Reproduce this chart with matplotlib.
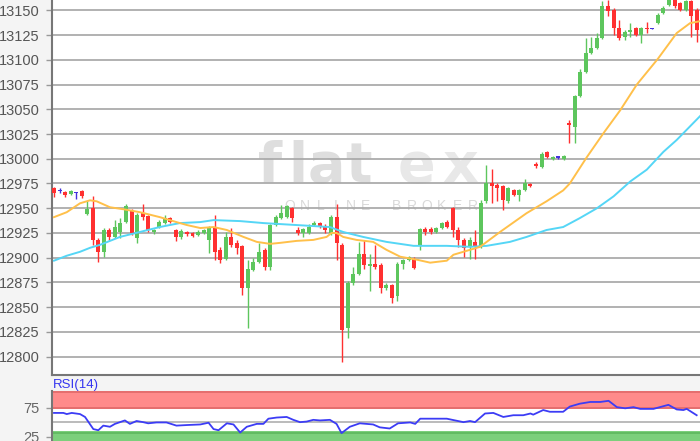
import numpy as np
import matplotlib
matplotlib.use("Agg")
import matplotlib.pyplot as plt

plt.rcParams['font.family'] = ['Liberation Sans', 'DejaVu Sans']

# OHLC (one entry per candle, left to right)
opens = [12970, 12967, 12966, 12964, 12965, 12967, 12944, 12950, 12918, 12906,
         12928, 12921, 12926, 12936, 12947, 12920, 12945, 12942, 12926, 12931,
         12935, 12940, 12928, 12921, 12926, 12925, 12923, 12925, 12918, 12931,
         12908, 12899, 12921, 12915, 12912, 12869, 12888, 12896, 12908, 12891,
         12933, 12940, 12941, 12950, 12928, 12925, 12925, 12933, 12935, 12932,
         12925, 12941, 12913, 12829, 12874, 12884, 12904, 12892, 12894, 12893,
         12869, 12872, 12861, 12894, 12898, 12899, 12913, 12929, 12929, 12926,
         12930, 12936, 12950, 12928, 12918, 12911, 12916, 12911, 12957, 12975,
         12973, 12972, 12957, 12968, 12963, 12968, 12974, 12994, 12992, 13007,
         13000, 13001, 13000, 13036, 13032, 13063, 13088, 13107, 13112, 13122,
         13154, 13150, 13132, 13123, 13128, 13132, 13125, 13132, 13131, 13137,
         13147, 13155, 13160, 13157, 13150, 13159, 13150]
highs = [12971, 12970, 12967, 12968, 12966, 12968, 12957, 12962, 12920, 12930,
         12930, 12938, 12940, 12954, 12949, 12945, 12954, 12943, 12929, 12938,
         12943, 12941, 12929, 12929, 12927, 12926, 12928, 12929, 12932, 12943,
         12911, 12926, 12930, 12918, 12913, 12898, 12900, 12915, 12910, 12934,
         12943, 12953, 12953, 12951, 12931, 12930, 12934, 12937, 12936, 12934,
         12943, 12954, 12915, 12876, 12891, 12916, 12918, 12904, 12913, 12895,
         12874, 12873, 12896, 12899, 12902, 12901, 12930, 12931, 12931, 12931,
         12936, 12938, 12951, 12931, 12920, 12921, 12928, 12958, 12994, 12990,
         12975, 12973, 12971, 12969, 12969, 12980, 12975, 12997, 13007, 13008,
         13003, 13003, 13004, 13039, 13064, 13091, 13122, 13123, 13127, 13159,
         13160, 13152, 13140, 13130, 13137, 13133, 13133, 13138, 13132, 13147,
         13154, 13163, 13162, 13158, 13160, 13160, 13152]
lows = [12961, 12965, 12961, 12963, 12959, 12960, 12943, 12913, 12896, 12901,
        12918, 12920, 12920, 12935, 12923, 12915, 12938, 12926, 12924, 12930,
        12934, 12935, 12917, 12919, 12922, 12921, 12922, 12924, 12905, 12898,
        12895, 12898, 12911, 12904, 12862, 12829, 12887, 12895, 12888, 12888,
        12932, 12939, 12940, 12936, 12923, 12921, 12924, 12932, 12930, 12925,
        12923, 12898, 12795, 12819, 12872, 12883, 12889, 12866, 12889, 12864,
        12867, 12854, 12856, 12889, 12897, 12889, 12908, 12923, 12924, 12925,
        12929, 12930, 12921, 12911, 12901, 12899, 12899, 12910, 12955, 12955,
        12957, 12948, 12955, 12962, 12957, 12967, 12971, 12991, 12991, 13001,
        12999, 13000, 12999, 13016, 13016, 13062, 13087, 13106, 13111, 13121,
        13144, 13125, 13120, 13120, 13123, 13124, 13117, 13127, 13131, 13136,
        13146, 13154, 13152, 13149, 13149, 13123, 13118]
closes = [12965, 12967, 12963, 12967, 12965, 12962, 12949, 12918, 12906, 12928,
          12921, 12931, 12935, 12952, 12925, 12943, 12941, 12928, 12928, 12936,
          12940, 12936, 12921, 12927, 12924, 12922, 12926, 12928, 12931, 12906,
          12898, 12921, 12913, 12910, 12869, 12889, 12896, 12906, 12891, 12933,
          12941, 12945, 12952, 12940, 12925, 12929, 12931, 12935, 12931, 12928,
          12941, 12915, 12827, 12874, 12884, 12904, 12893, 12893, 12891, 12869,
          12872, 12859, 12894, 12898, 12901, 12890, 12929, 12926, 12926, 12930,
          12935, 12931, 12928, 12918, 12910, 12918, 12911, 12955, 12975, 12972,
          12970, 12958, 12970, 12963, 12968, 12975, 12972, 12993, 13005, 13002,
          13002, 13001, 13003, 13034, 13063, 13088, 13107, 13112, 13122, 13154,
          13149, 13132, 13122, 13128, 13130, 13125, 13132, 13131, 13131, 13145,
          13152, 13160, 13154, 13150, 13159, 13144, 13130]

# moving averages, read at candle positions
ma_fast_pos = [0, 2.3, 4.7, 6.5, 7.7, 10.1, 12.5, 15.5, 19.1, 22.1, 24, 26.4, 28.8,
               31.2, 34.2, 36.6, 39, 40.8, 43.8, 46.8, 49.2, 50.1, 51, 52.2, 54.6,
               57.6, 60, 62.5, 65.5, 67.9, 70.9, 72.1, 75.1, 76.9, 80.5, 85.3, 88.9,
               91.9, 93.1, 96.1, 99.2, 102.2, 105.2, 109, 112.4, 114.8, 116.6]
ma_fast = [12941, 12946, 12955, 12958, 12957, 12951, 12949, 12946, 12941, 12936,
           12933, 12930, 12931, 12928, 12921, 12916, 12914, 12915, 12917, 12918,
           12921, 12925, 12925, 12921, 12918, 12916, 12908, 12901, 12898, 12895,
           12897, 12903, 12908, 12911, 12926, 12945, 12957, 12968, 12975, 13001,
           13026, 13049, 13075, 13101, 13127, 13137, 13139]
ma_slow_pos = [0, 2.3, 4.7, 6.5, 8.3, 11.9, 15.5, 19.1, 22.7, 26.4, 28.8, 33.6,
               37.8, 43.8, 49.8, 52.2, 55.8, 60, 64.9, 70.9, 75.1, 78.1, 82.3, 85.3,
               88.9, 91.9, 94.9, 98, 101, 104, 107, 110, 112.4, 116.6]
ma_slow = [12897, 12902, 12906, 12910, 12913, 12921, 12926, 12931, 12935, 12936,
           12938, 12937, 12935, 12933, 12931, 12926, 12921, 12916, 12912, 12912,
           12911, 12912, 12916, 12921, 12928, 12931, 12940, 12950, 12962, 12977,
           12989, 13007, 13019, 13043]

rsi_pos = [0, 1.7, 2.3, 3.2, 4.7, 5.6, 7.1, 8, 8.9, 10.1, 11, 12.8, 13.7, 14.9,
           16.1, 17, 18.5, 20.3, 22.1, 24, 26.4, 27.9, 28.8, 29.7, 31.2, 32.4,
           33.6, 34.8, 36.6, 37.8, 38.7, 40.2, 42, 43.2, 44.4, 45.6, 46.8, 48,
           49.8, 51, 51.9, 53.4, 55.2, 57.6, 58.8, 60.6, 62.1, 64.3, 65.2, 66.1,
           70.9, 73.9, 75.1, 76, 77.8, 79.3, 81.1, 82.9, 84.7, 86, 86.5, 88.3,
           89.5, 91.9, 93.1, 94.9, 96.8, 98.6, 100.1, 101.6, 103.1, 104.6, 105.8,
           108.2, 110.9, 112.4, 113.6, 114.2, 116]
rsi = [66, 66, 64, 66, 64, 59, 38, 36, 44, 42, 47, 53, 47, 52,
       50, 48, 49.5, 49.5, 44, 45, 46, 49, 38, 36, 48, 46,
       32, 42, 47, 47, 56, 58, 59, 54, 50, 51, 54, 53,
       54, 47, 31, 42, 48, 46, 41, 39, 48, 49.5, 47, 56,
       56, 50, 52, 50, 65, 66, 59, 62, 62, 65, 63, 71,
       68, 68, 77, 82, 85, 85, 87, 76, 74, 76, 73,
       73, 80, 72, 71, 73, 62]

price_ticks = list(range(12800, 13151, 25))

W, H = 700, 441
fig = plt.figure(figsize=(7, 4.41), dpi=100, facecolor='#f4f4f4')

ax = fig.add_axes([52 / W, 1 - 374.5 / H, 648 / W, 374.5 / H])
ax.set_facecolor('white')
ax.set_xlim(-0.36, 116.6)
ax.set_ylim(12782, 13160.4)
ax.set_yticks(price_ticks)
ax.set_xticks([])
ax.set_axisbelow(True)
ax.grid(axis='y', color='#ababab', lw=1.3)
for s in ['top', 'right']:
    ax.spines[s].set_visible(False)
for s in ['left', 'bottom']:
    ax.spines[s].set_color('#777777')
    ax.spines[s].set_linewidth(1.5)
ax.tick_params(axis='y', length=4, width=1, color='#999999', labelcolor='#555555',
               labelsize=10.5, pad=5)

# watermark
def px(x, y):
    return (x - 52) / 648, (374.5 - y) / 374.5

for ch, xc in zip('flat', [270, 298, 326, 358]):
    ax.text(*px(xc, 182), ch, transform=ax.transAxes, ha='center', va='baseline',
            fontsize=40, fontweight='bold', color='#dedede', zorder=0.3,
            family='DejaVu Sans')
for ch, xc in zip('ex', [416, 460]):
    ax.text(*px(xc, 182), ch, transform=ax.transAxes, ha='center', va='baseline',
            fontsize=40, fontweight='bold', color='#e8e8e8', zorder=0.3,
            family='DejaVu Sans')
for k, ch in enumerate('ONLINE BROKER'):
    ax.text(*px(290 + 15.2 * k, 206), ch, transform=ax.transAxes, ha='center',
            va='center', fontsize=10, color='#d9d9d9', zorder=0.3)

# candles
o = np.array(opens); h = np.array(highs); l = np.array(lows); c = np.array(closes)
idx = np.arange(len(o))
cols = np.where(c > o, '#5dc65d', np.where(c < o, '#ff3030', '#4433dd'))
ax.vlines(idx, l, h, colors=cols, lw=1, zorder=3)
ax.bar(idx, np.maximum(np.abs(c - o), 1.3), bottom=np.minimum(o, c), width=0.72,
       color=cols, lw=0, zorder=4)

ax.plot(ma_slow_pos, ma_slow, color='#55d6f6', lw=1.4, zorder=5)
ax.plot(ma_fast_pos, ma_fast, color='#ffc04a', lw=1.4, zorder=5)

# RSI panel
fig.text(53 / W, 1 - 385 / H, 'RSI(14)', color='#3535f0', fontsize=9.5, va='center')
rax = fig.add_axes([52 / W, (H - 451) / H, 648 / W, 60 / H])
rax.set_facecolor('white')
rax.set_xlim(-0.36, 116.6)
rax.set_ylim(0, 104)
rax.axhspan(72.5, 104, color='#ff8b8b', lw=0, zorder=0)
rax.axhspan(0, 34, color='#7ccf7c', lw=0, zorder=0)
rax.axhline(102, color='#e06a6a', lw=1.2, zorder=1)
rax.axhline(75, color='#e06a6a', lw=1.2, zorder=1)
rax.axhline(50, color='#b5b5b5', lw=1.3, zorder=1)
rax.axhline(32, color='#5fb85f', lw=1.2, zorder=1)
rax.plot(rsi_pos, rsi, color='#3c3cf5', lw=1.3, zorder=3)
rax.set_yticks([25, 75])
rax.set_xticks([])
for s in ['top', 'right', 'bottom']:
    rax.spines[s].set_visible(False)
rax.spines['left'].set_color('#777777')
rax.spines['left'].set_linewidth(1.5)
rax.tick_params(axis='y', length=4, width=1, color='#999999', labelcolor='#666666',
                labelsize=10.5, pad=5)

fig.savefig('out.png', dpi=100, facecolor=fig.get_facecolor())
